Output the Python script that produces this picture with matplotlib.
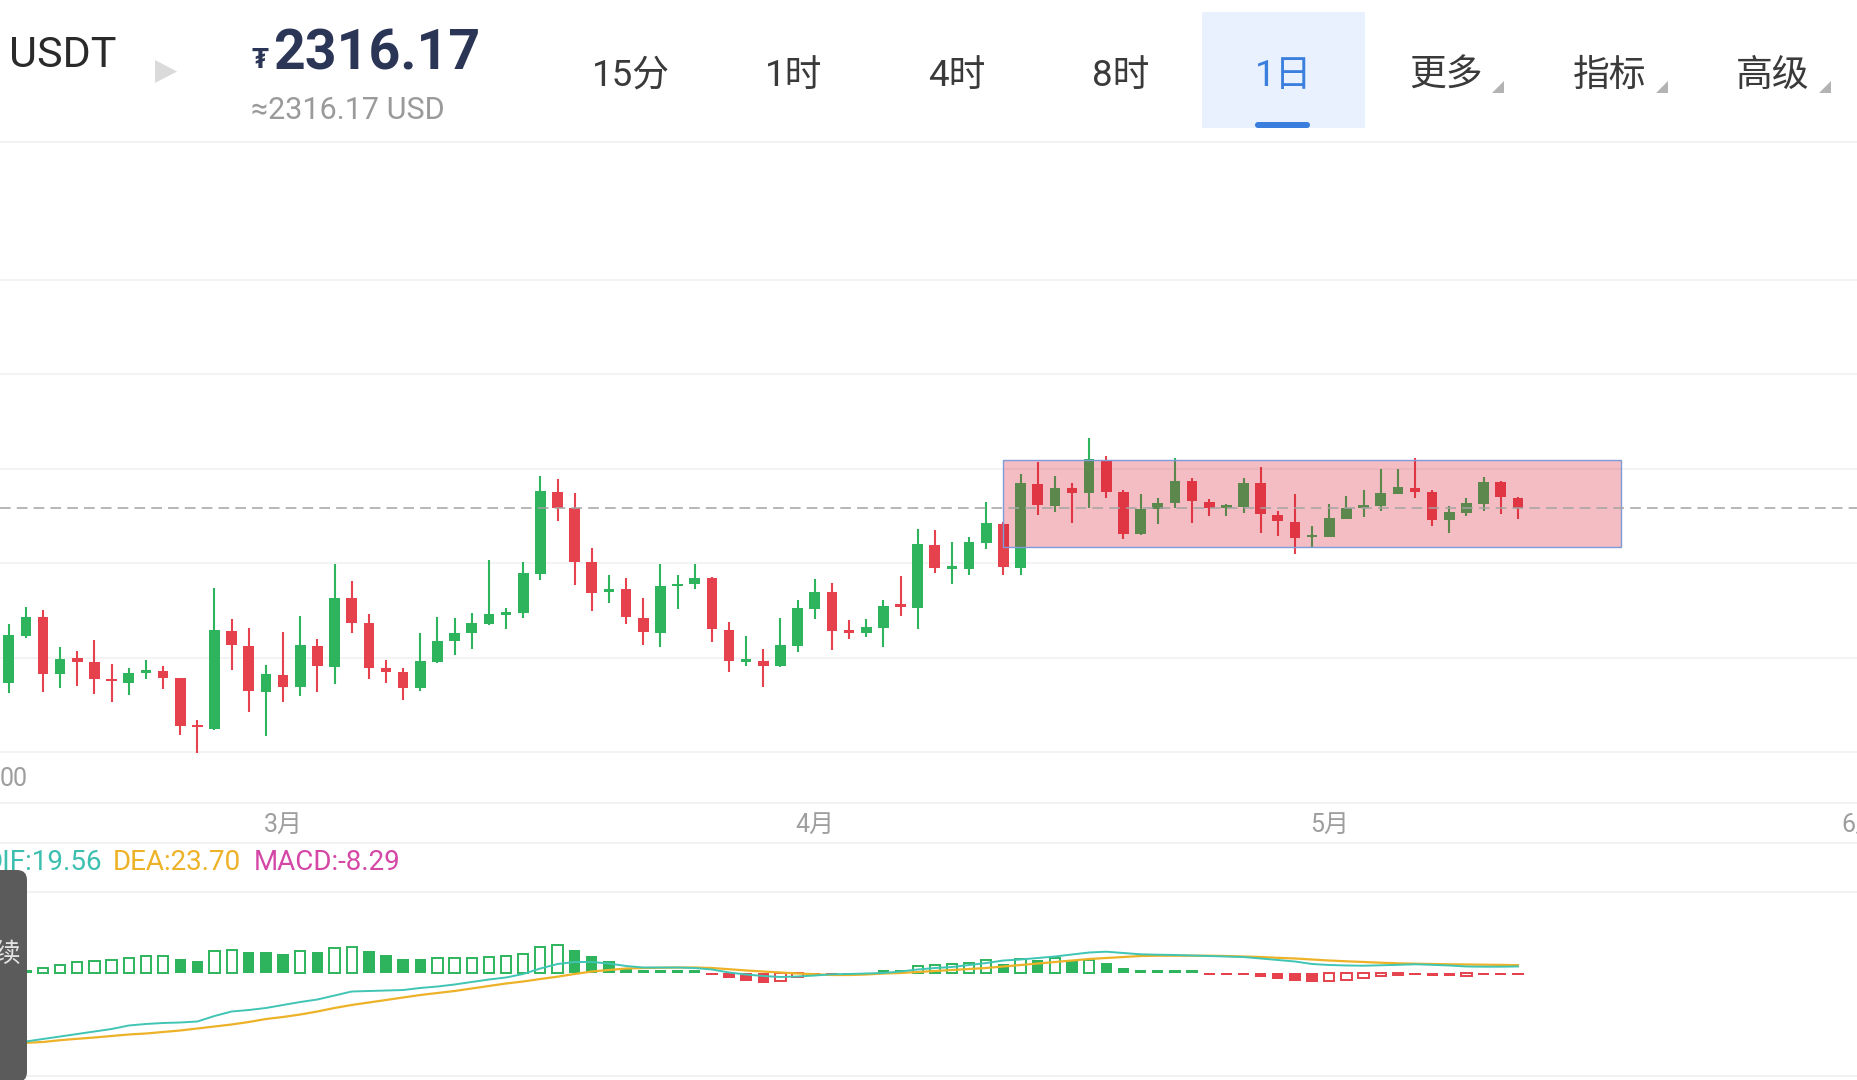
import numpy as np
import pandas as pd
import matplotlib
matplotlib.use('Agg')
import matplotlib.pyplot as plt
from matplotlib.patches import Rectangle, FancyBboxPatch, Polygon
from matplotlib.lines import Line2D
from matplotlib.transforms import blended_transform_factory

plt.rcParams['font.family'] = ['Roboto', 'Noto Sans CJK SC', 'DejaVu Sans']

W, H = 1858, 1080

# daily candles, first one on 2024-02-14
start_date = '2024-02-14'
opens = [2228.5, 2252.3, 2261.5, 2233.2, 2241.0, 2239.2, 2230.7, 2228.5, 2233.8, 2234.7,
         2231.3, 2207.3, 2205.8, 2254.5, 2247.3, 2224.3, 2232.8, 2226.8, 2247.3, 2236.8,
         2271.2, 2258.5, 2236.2, 2234.0, 2226.0, 2239.3, 2249.5, 2253.5, 2258.2, 2262.7,
         2263.8, 2283.2, 2324.3, 2316.0, 2289.2, 2274.3, 2275.7, 2261.0, 2253.8, 2277.2,
         2278.0, 2281.3, 2255.2, 2239.3, 2239.8, 2237.2, 2247.3, 2265.5, 2274.0, 2254.7,
         2253.8, 2256.3, 2267.3, 2266.3, 2297.8, 2285.8, 2285.8, 2298.8, 2308.2, 2286.3,
         2328.2, 2317.2, 2326.0, 2323.5, 2340.2, 2324.3, 2303.2, 2315.5, 2318.5, 2329.7,
         2319.3, 2316.3, 2316.5, 2328.5, 2312.8, 2309.3, 2301.7, 2301.8, 2310.8, 2316.0,
         2317.2, 2323.0, 2326.3, 2324.3, 2310.0, 2313.5, 2318.0, 2329.2, 2321.0]
highs = [2258.2, 2266.5, 2265.2, 2246.5, 2244.7, 2250.2, 2238.2, 2236.3, 2240.2, 2237.2,
         2231.3, 2210.2, 2276.2, 2260.7, 2256.0, 2237.5, 2254.2, 2262.2, 2250.8, 2288.2,
         2279.7, 2263.2, 2240.2, 2236.2, 2253.5, 2261.8, 2261.2, 2263.5, 2290.2, 2266.0,
         2289.2, 2332.2, 2330.5, 2323.8, 2296.3, 2282.7, 2281.0, 2271.3, 2288.2, 2282.5,
         2288.2, 2281.8, 2259.2, 2252.2, 2245.7, 2261.0, 2270.0, 2280.5, 2278.5, 2260.2,
         2260.8, 2270.2, 2282.2, 2305.7, 2305.2, 2299.2, 2301.8, 2319.3, 2309.3, 2333.0,
         2339.3, 2332.2, 2328.5, 2351.0, 2342.2, 2325.2, 2323.2, 2321.0, 2341.3, 2331.3,
         2320.5, 2318.2, 2331.0, 2336.8, 2314.5, 2323.2, 2307.2, 2318.0, 2322.2, 2325.2,
         2335.5, 2335.7, 2341.3, 2325.2, 2317.2, 2321.0, 2331.5, 2329.8, 2321.8]
lows = [2223.5, 2251.0, 2224.3, 2226.0, 2227.3, 2223.2, 2219.0, 2222.8, 2230.7, 2225.7,
        2202.5, 2193.8, 2205.0, 2235.2, 2214.3, 2202.3, 2219.3, 2222.3, 2224.3, 2228.2,
        2253.8, 2230.8, 2228.8, 2220.2, 2224.8, 2238.8, 2242.8, 2245.5, 2257.7, 2255.8,
        2261.0, 2280.2, 2309.8, 2277.5, 2264.7, 2268.5, 2258.0, 2247.5, 2246.8, 2265.5,
        2275.8, 2249.3, 2234.0, 2237.2, 2226.5, 2236.5, 2244.2, 2260.7, 2245.2, 2250.7,
        2251.5, 2246.5, 2262.2, 2255.5, 2283.8, 2278.2, 2282.8, 2295.5, 2282.5, 2282.5,
        2312.7, 2314.3, 2308.5, 2316.0, 2321.3, 2300.8, 2302.5, 2308.3, 2316.0, 2308.8,
        2312.2, 2312.3, 2313.8, 2303.8, 2302.2, 2293.3, 2296.0, 2301.5, 2310.5, 2311.5,
        2314.7, 2323.0, 2321.0, 2307.3, 2303.8, 2312.3, 2314.8, 2313.0, 2310.8]
closes = [2252.7, 2261.5, 2233.2, 2240.7, 2239.3, 2230.8, 2229.7, 2233.8, 2235.2, 2231.3,
          2207.3, 2206.5, 2255.0, 2247.7, 2224.8, 2233.2, 2226.8, 2247.7, 2237.2, 2271.3,
          2258.7, 2236.2, 2234.0, 2226.3, 2239.7, 2249.8, 2253.5, 2258.7, 2263.2, 2264.2,
          2283.5, 2324.7, 2316.3, 2289.2, 2273.8, 2275.5, 2261.5, 2254.0, 2277.2, 2278.3,
          2281.3, 2255.5, 2239.7, 2240.2, 2237.3, 2247.5, 2266.2, 2274.3, 2254.8, 2253.8,
          2256.7, 2267.2, 2266.8, 2298.0, 2286.3, 2286.7, 2299.2, 2308.5, 2286.8, 2328.5,
          2317.5, 2326.2, 2323.8, 2340.5, 2324.3, 2303.3, 2315.7, 2318.5, 2329.7, 2319.5,
          2316.2, 2317.2, 2328.5, 2313.0, 2309.7, 2301.0, 2302.3, 2311.2, 2316.0, 2317.5,
          2323.5, 2326.8, 2324.3, 2310.2, 2314.0, 2318.5, 2329.2, 2321.5, 2316.17]

# MACD series, starting one day before the first candle
dif = [-253.2, -237.1, -222.6, -214.5, -206.5, -198.4, -190.3, -182.3, -171.0, -166.1,
       -162.9, -161.3, -158.1, -140.3, -125.8, -121.0, -114.5, -104.8, -95.2, -87.1,
       -74.2, -61.3, -59.7, -58.1, -56.5, -50.0, -45.2, -38.7, -30.6, -22.6,
       -16.1, -4.8, 12.9, 27.4, 33.9, 33.9, 29.0, 21.0, 16.1, 16.1,
       16.1, 14.5, 9.7, 0.0, -6.5, -11.3, -14.5, -12.9, -9.7, -5.8,
       -4.8, -3.2, -1.6, 3.2, 9.7, 14.5, 17.7, 24.2, 30.6, 38.7,
       41.9, 46.8, 51.6, 58.1, 64.5, 67.1, 62.9, 58.7, 57.4, 56.5,
       54.8, 53.2, 51.6, 50.0, 45.2, 40.3, 35.5, 27.4, 24.2, 22.6,
       21.9, 23.2, 24.8, 26.5, 24.8, 22.6, 19.4, 18.7, 18.7, 19.56]
dea = [-230.6, -228.4, -226.8, -224.2, -218.4, -213.9, -209.7, -204.8, -200.0, -196.8,
       -191.9, -187.1, -180.6, -174.2, -167.7, -159.7, -150.0, -143.5, -135.5, -125.8,
       -114.5, -104.8, -96.8, -88.7, -80.6, -72.6, -66.1, -59.7, -51.6, -43.5,
       -35.5, -29.0, -21.0, -13.5, -4.8, 3.2, 8.1, 12.9, 14.5, 15.2,
       16.1, 16.1, 14.5, 10.6, 6.5, 3.2, 0.0, -3.2, -5.5, -8.1,
       -8.1, -6.5, -3.2, -1.6, 1.6, 4.8, 8.1, 11.3, 14.5, 19.4,
       24.2, 29.0, 33.9, 38.7, 43.5, 46.8, 50.0, 53.2, 54.2, 54.2,
       54.2, 54.2, 53.2, 51.6, 50.0, 47.4, 45.2, 41.9, 38.7, 36.1,
       33.9, 31.6, 29.7, 28.4, 27.4, 26.5, 25.8, 25.2, 24.5, 23.70]
macd_hist = [-20, -16, 3, 14, 25, 35, 38, 41, 48, 52,
             54, 43, 38, 70, 73, 65, 65, 59, 70, 65,
             80, 83, 68, 55, 44, 42, 46, 47, 48, 50,
             52, 61, 83, 89, 72, 54, 38, 11, 5, 3,
             2, 2, -3, -18, -26, -35, -29, -13, -5, -4,
             -3, -2, 2, 4, 21, 25, 27, 32, 40, 29,
             43, 41, 46, 38, 41, 32, 16, 4, 3, 2,
             2, -2, -8, -6, -13, -21, -26, -31, -29, -23,
             -17, -12, -8, -5, -10, -11, -10, -5, -4, -8.29]

# drawn range box
box_start, box_end = '2024-04-12', '2024-05-18'
box_low, box_high = 2296.8, 2340.17

month_labels = ['3月', '4月', '5月', '6月']
tabs = ['15分', '1时', '4时', '8时', '1日', '更多', '指标', '高级']
active_tab = '1日'
symbol = 'USDT'

up_c, down_c = '#2EB45C', '#E5424D'
grid_c = '#F1F1F1'

dates = pd.date_range(start_date, periods=len(closes), freq='D')
x = np.arange(len(closes))
o, h, l, c = map(np.array, (opens, highs, lows, closes))
up = c >= o
colors = np.where(up, up_c, down_c)

def day_index(d):
    return (pd.Timestamp(d) - dates[0]).days

def fy(y):
    return 1 - y / H

fig = plt.figure(figsize=(W / 100, H / 100), dpi=100)
fig.patch.set_facecolor('white')

# price panel
ax = fig.add_axes([0, fy(803), 1, (803 - 142) / H])
ax.set_xlim(-0.507, 107.83)
ax.set_ylim(2168.67, 2499.17)
ax.vlines(x, l, h, colors=colors, linewidth=1.5, zorder=2)
body = np.maximum(np.abs(c - o), 1.2)
ax.bar(x, body, bottom=np.minimum(o, c), width=0.62, color=colors, zorder=2)
ax.set_yticks(2194.17 + 47.25 * np.arange(6))
ax.grid(axis='y', color=grid_c, linewidth=1.2, zorder=0)
ax.tick_params(left=False, bottom=False, labelleft=False, labelbottom=False)
for s in ax.spines.values():
    s.set_visible(False)

b0, b1 = day_index(box_start), day_index(box_end)
ax.add_patch(Rectangle((b0, box_low), b1 - b0, box_high - box_low,
                       facecolor=(0.84, 0.08, 0.16, 0.28), edgecolor='#7C9BD8',
                       linewidth=1.0, zorder=3))
ax.axhline(closes[-1], color='#A3A3A3', linewidth=1.1, dashes=(7, 4), zorder=4)

# month labels
tr = blended_transform_factory(ax.transData, fig.transFigure)
for lab in month_labels:
    m = int(lab[:-1])
    pos = day_index(f'2024-{m:02d}-01')
    fig.text(pos, fy(825), lab, transform=tr, ha='center', va='center',
             fontsize=18, color='#9E9E9E')
fig.text(0, fy(779), '00', ha='left', va='center', fontsize=18, color='#9E9E9E')

# MACD panel
ax2 = fig.add_axes([0, fy(1076), 1, (1076 - 892) / H])
ax2.set_xlim(-0.507, 107.83)
ax2.set_ylim(-333.9, 259.7)
xm = np.arange(-1, len(closes))
hv = np.array(macd_hist, dtype=float)
for k in range(1, len(hv)):
    v, prev = hv[k], hv[k - 1]
    col = up_c if v >= 0 else down_c
    if abs(v) < 7:
        ax2.bar(xm[k], 6.5 if v >= 0 else -6.5, width=0.66, color=col, zorder=2)
    elif v > prev:
        ax2.bar(xm[k], v, width=0.6, facecolor='white', edgecolor=col,
                linewidth=1.4, zorder=2)
    else:
        ax2.bar(xm[k], v, width=0.66, color=col, zorder=2)
ax2.plot(xm, dea, color='#EDB227', linewidth=1.6, zorder=3)
ax2.plot(xm, dif, color='#40C4B4', linewidth=1.4, zorder=3)
ax2.axis('off')

# separators
for yy in [142, 803, 843, 892, 1076]:
    fig.add_artist(Line2D([0, 1], [fy(yy), fy(yy)], transform=fig.transFigure,
                          color=grid_c, linewidth=1.3))

# MACD legend text
fig.text(102 / W, fy(863), f'DIF:{dif[-1]:.2f}', ha='right', va='center',
         fontsize=20, color='#3DBFB0')
fig.text(113 / W, fy(863), f'DEA:{dea[-1]:.2f}', ha='left', va='center',
         fontsize=20, color='#EDB227')
fig.text(254 / W, fy(863), f'MACD:{macd_hist[-1]:.2f}', ha='left', va='center',
         fontsize=20, color='#D447A6')

# grey side handle
fig.add_artist(FancyBboxPatch((-0.2, -0.02), 0.47, (1080 - 870 + 2) / 100,
                              boxstyle='round,pad=0,rounding_size=0.1',
                              transform=fig.dpi_scale_trans, facecolor='#5B5B5B',
                              edgecolor='none', zorder=10))
fig.text(21 / W, fy(955), '继续', ha='right', va='center', fontsize=19,
         color='#E2E2E2', zorder=11)

# header
fig.text(9 / W, fy(67), symbol, ha='left', va='baseline', fontsize=31, color='#2A2A2A')
fig.add_artist(Polygon([[155 / W, fy(60)], [155 / W, fy(83)], [177 / W, fy(71.5)]],
                       closed=True, transform=fig.transFigure, facecolor='#DADADA',
                       edgecolor='none'))
fig.text(252 / W, fy(68), '₮', ha='left', va='baseline', fontsize=20,
         fontweight='bold', color='#2B3556')
fig.text(273 / W, fy(70), f'{closes[-1]:.2f}', ha='left', va='baseline', fontsize=40,
         fontweight='bold', color='#2B3556')
fig.text(251 / W, fy(119), f'≈{closes[-1]:.2f} USD', ha='left', va='baseline',
         fontsize=22, color='#9A9A9A')

fig.add_artist(Rectangle((1202 / W, fy(128)), 163 / W, 116 / H, transform=fig.transFigure,
                         facecolor='#E8F1FD', edgecolor='none', zorder=0))
fig.add_artist(FancyBboxPatch((12.55, (1080 - 128) / 100), 0.55, 0.06,
                              boxstyle='round,pad=0,rounding_size=0.03',
                              transform=fig.dpi_scale_trans, facecolor='#3A7FDE',
                              edgecolor='none'))
for k, t in enumerate(tabs):
    cx = 631 + 163.1 * k
    fig.text(cx / W, fy(86), t, ha='center', va='baseline', fontsize=26.5,
             color='#3A7FDE' if t == active_tab else '#3A3A3A')
    if k >= 5:
        tx = cx + 46
        fig.add_artist(Polygon([[tx / W, fy(93)], [(tx + 12) / W, fy(93)],
                                [(tx + 12) / W, fy(81)]], closed=True,
                               transform=fig.transFigure, facecolor='#B3B3B3',
                               edgecolor='none'))

fig.savefig('out.png', dpi=100, facecolor='white')
